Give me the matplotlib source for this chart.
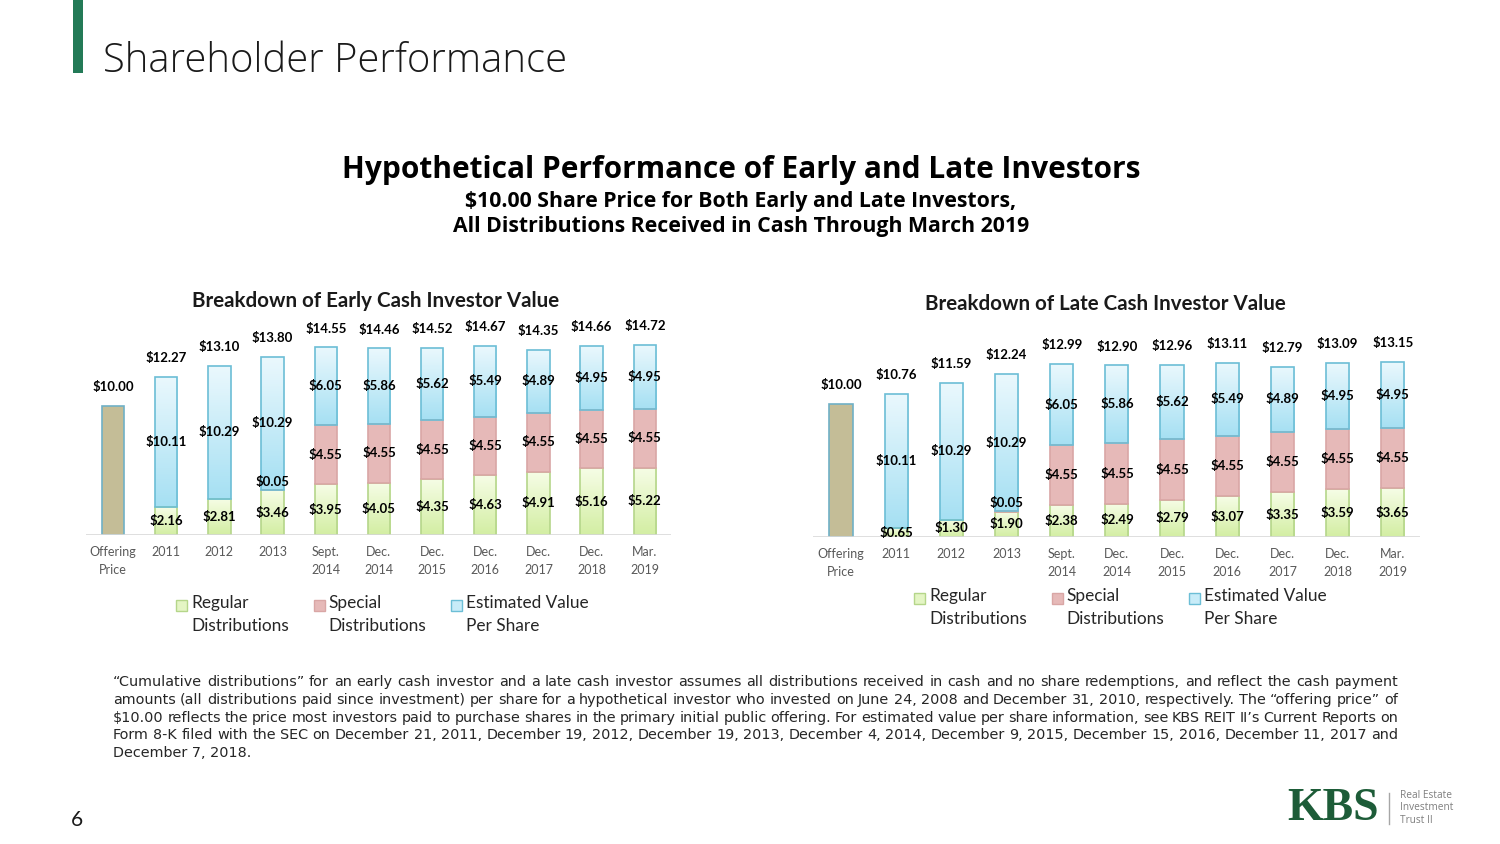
import matplotlib
matplotlib.use('Agg')
import matplotlib.pyplot as plt
import numpy as np
from matplotlib.colors import LinearSegmentedColormap
from matplotlib.patches import Rectangle

plt.rcParams['text.parse_math'] = False
plt.rcParams['font.family'] = ['Lato', 'DejaVu Sans']

# data
periods = ['2011', '2012', '2013', 'Sept.\n2014', 'Dec.\n2014', 'Dec.\n2015',
           'Dec.\n2016', 'Dec.\n2017', 'Dec.\n2018', 'Mar.\n2019']
offering_price = 10.00

early_regular = [2.16, 2.81, 3.46, 3.95, 4.05, 4.35, 4.63, 4.91, 5.16, 5.22]
early_special = [0, 0, 0.05, 4.55, 4.55, 4.55, 4.55, 4.55, 4.55, 4.55]
early_estimated = [10.11, 10.29, 10.29, 6.05, 5.86, 5.62, 5.49, 4.89, 4.95, 4.95]
early_total = [12.27, 13.10, 13.80, 14.55, 14.46, 14.52, 14.67, 14.35, 14.66, 14.72]

late_regular = [0.65, 1.30, 1.90, 2.38, 2.49, 2.79, 3.07, 3.35, 3.59, 3.65]
late_special = [0, 0, 0.05, 4.55, 4.55, 4.55, 4.55, 4.55, 4.55, 4.55]
late_estimated = [10.11, 10.29, 10.29, 6.05, 5.86, 5.62, 5.49, 4.89, 4.95, 4.95]
late_total = [10.76, 11.59, 12.24, 12.99, 12.90, 12.96, 13.11, 12.79, 13.09, 13.15]

W, H = 1500, 844
fig = plt.figure(figsize=(15, 8.44), dpi=100)


def fx(x):
    return x / W


def fy(y):
    return 1 - y / H


green_cm = LinearSegmentedColormap.from_list('g', ['#d3eea3', '#f6fde6'])
blue_cm = LinearSegmentedColormap.from_list('b', ['#a6e0f3', '#eaf8fd'])
grad = np.linspace(0, 1, 64).reshape(-1, 1)
LBL = 9.5


def stacked(ax, xs, vals, bottoms, fill, edge, cmap=None, width=0.42):
    for x, v, b in zip(xs, vals, bottoms):
        if v <= 0:
            continue
        bar = ax.bar(x, v, width, bottom=b, facecolor=fill if cmap is None else 'none',
                     edgecolor=edge, linewidth=1.2, zorder=3)[0]
        if cmap is not None:
            im = ax.imshow(grad, extent=[x - width / 2, x + width / 2, b, b + v],
                           aspect='auto', cmap=cmap, origin='lower', zorder=2)
            im.set_clip_path(bar)


def draw_chart(rect, title, title_xy, regular, special, estimated, total):
    ax = fig.add_axes(rect)
    xs = np.arange(1, len(periods) + 1)
    reg = np.array(regular)
    spc = np.array(special)
    est = np.array(estimated)

    ax.bar(0, offering_price, 0.42, facecolor='#c4bd97', edgecolor='#6fb0c6',
           linewidth=1.2, zorder=3)
    stacked(ax, xs, reg, np.zeros(len(xs)), '#e4f5c4', '#b5d68a', green_cm)
    stacked(ax, xs, spc, reg, '#e6b9b8', '#d9a6a5')
    stacked(ax, xs, est, reg + spc, '#c8ecf8', '#6cbed6', blue_cm)

    # segment labels
    for x, r, s, e in zip(xs, reg, spc, est):
        ax.text(x, r / 2, f'${r:.2f}', ha='center', va='center',
                fontsize=LBL, fontweight='bold', zorder=5)
        if s > 0:
            off = 6 if s < 0.5 else 0
            ax.annotate(f'${s:.2f}', (x, r + s / 2), xytext=(0, off),
                        textcoords='offset points', ha='center', va='center',
                        fontsize=LBL, fontweight='bold', zorder=5)
        ax.text(x, r + s + e / 2, f'${e:.2f}', ha='center', va='center',
                fontsize=LBL, fontweight='bold', zorder=5)
    # totals
    for x, t in zip([0] + list(xs), [offering_price] + list(total)):
        ax.annotate(f'${t:.2f}', (x, t), xytext=(0, 13.5), textcoords='offset points',
                    ha='center', va='center', fontsize=LBL, fontweight='bold')

    ax.axhline(0, color='#d9d9d9', linewidth=1.2, zorder=4)
    ax.set_xlim(-0.5, len(periods) + 0.5)
    ax.set_ylim(0, 16)
    ax.set_xticks([0] + list(xs))
    ax.set_xticklabels(['Offering\nPrice'] + periods, fontsize=9, color='#595959',
                       linespacing=1.55, va='top')
    ax.tick_params(axis='x', length=0, pad=8)
    ax.set_yticks([])
    for sp in ax.spines.values():
        sp.set_visible(False)
    fig.text(fx(title_xy[0]), fy(title_xy[1]), title, ha='center', va='center',
             fontsize=14.8, fontweight='bold', color='#1a1a1a')
    return ax


draw_chart([fx(86.4), fy(535), 585 / W, 16 * 12.9 / H],
           'Breakdown of Early Cash Investor Value', (376, 301),
           early_regular, early_special, early_estimated, early_total)
draw_chart([fx(813.4), fy(537), 607 / W, 16 * 13.3 / H],
           'Breakdown of Late Cash Investor Value', (1105, 304),
           late_regular, late_special, late_estimated, late_total)

# legends
leg_names = ['Regular\nDistributions', 'Special\nDistributions', 'Estimated Value\nPer Share']
leg_fill = ['#e4f5c4', '#e6b9b8', '#c8ecf8']
leg_edge = ['#b5d68a', '#d9a6a5', '#6cbed6']
for lx, ly in [(176, 600), (914, 593)]:
    for i, (nm, fc, ec) in enumerate(zip(leg_names, leg_fill, leg_edge)):
        x0 = lx + i * 137.5
        fig.patches.append(Rectangle((fx(x0), fy(ly + 11)), 11 / W, 11 / H,
                                     transform=fig.transFigure, facecolor=fc,
                                     edgecolor=ec, linewidth=1))
        fig.text(fx(x0 + 15), fy(ly - 5), nm, ha='left', va='top', fontsize=12.4,
                 color='#262626', linespacing=1.55)

# slide header
fig.patches.append(Rectangle((fx(73), fy(73)), 10 / W, 73 / H, transform=fig.transFigure,
                             facecolor='#237a57', edgecolor='none'))
fig.text(fx(103), fy(62), 'Shareholder Performance', fontsize=28.8, color='#1a1a1a',
         ha='left', va='center', fontweight='light', family=['Open Sans', 'DejaVu Sans'])

fig.text(fx(741), fy(170), 'Hypothetical Performance of Early and Late Investors',
         ha='center', va='center', fontsize=21.5, fontweight='bold',
         family=['Open Sans', 'DejaVu Sans'])
fig.text(fx(741), fy(214), '$10.00 Share Price for Both Early and Late Investors,\n'
         'All Distributions Received in Cash Through March 2019',
         ha='center', va='center', fontsize=15.3, fontweight='bold', linespacing=1.3,
         family=['Open Sans', 'DejaVu Sans'])

# footnote, justified
foot_lines = [
    '\u201cCumulative distributions\u201d for an early cash investor and a late cash investor assumes all distributions received in cash and no share redemptions, and reflect the cash payment',
    'amounts (all distributions paid since investment) per share for a hypothetical investor who invested on June 24, 2008 and December 31, 2010, respectively.  The \u201coffering price\u201d of',
    '$10.00 reflects the price most investors paid to purchase shares in the primary initial public offering.  For estimated value per share information, see KBS REIT II\u2019s Current Reports on',
    'Form 8-K filed with the SEC on December 21, 2011, December 19, 2012, December 19, 2013, December 4, 2014, December 9, 2015, December 15, 2016, December 11, 2017 and',
    'December 7, 2018.',
]
foot_font = dict(fontsize=10.4, color='#262626', family=['DejaVu Sans'])
renderer = fig.canvas.get_renderer()
fx0, fx1 = 113, 1398
for k, line in enumerate(foot_lines):
    yy = 682 + k * 17.8
    words = line.split()
    if k == len(foot_lines) - 1:
        fig.text(fx(fx0), fy(yy), line, ha='left', va='center', **foot_font)
        continue
    texts = [fig.text(0, fy(yy), w, ha='left', va='center', **foot_font) for w in words]
    widths = [t.get_window_extent(renderer).width for t in texts]
    gap = (fx1 - fx0 - sum(widths)) / (len(words) - 1)
    cur = fx0
    for t, w in zip(texts, widths):
        t.set_x(fx(cur))
        cur += w + gap

# page number and logo
fig.text(fx(77), fy(820), '6', fontsize=15, ha='center', va='center', color='#1a1a1a')
fig.text(fx(1333), fy(809), 'KBS', fontsize=33, fontweight='bold', color='#1d5c38',
         ha='center', va='center', family=['Liberation Serif', 'DejaVu Serif'])
fig.add_artist(plt.Line2D([fx(1389), fx(1389)], [fy(793), fy(824)],
                          transform=fig.transFigure, color='#a6a6a6', linewidth=1))
fig.text(fx(1400), fy(808), 'Real Estate\nInvestment\nTrust II', fontsize=7.3, color='#7f7f7f',
         ha='left', va='center', linespacing=1.15, family=['Open Sans', 'DejaVu Sans'])

fig.savefig('out.png', dpi=100)
